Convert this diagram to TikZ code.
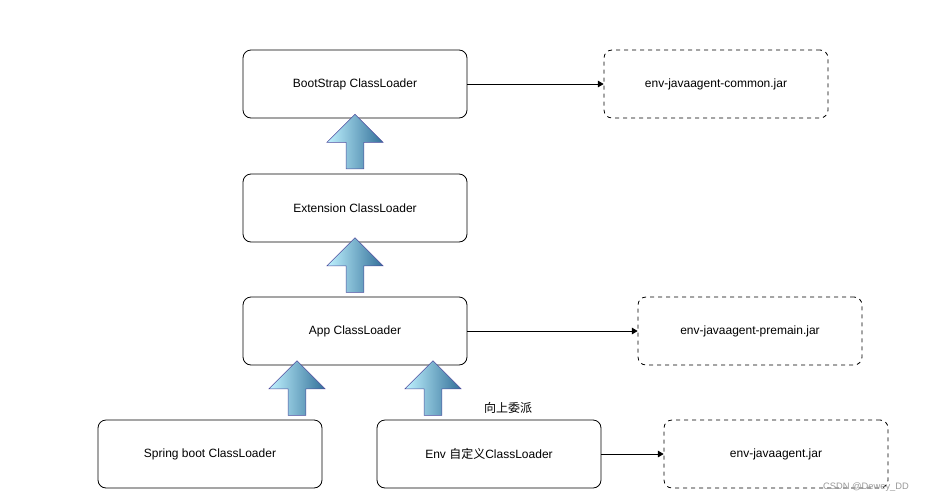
\documentclass[tikz,border=0pt]{standalone}
\usepackage{fontspec}
\setmainfont{Liberation Sans}
\newfontfamily\cjk{Noto Sans CJK SC}
\usetikzlibrary{positioning,arrows.meta,shapes.arrows,calc}

\begin{document}
\begin{tikzpicture}[x=0.75pt,y=-0.75pt,>=Triangle,semithick,
  loader/.style={draw=black,rounded corners=6pt,minimum width=168pt,minimum height=51pt,font=\small},
  jar/.style={loader,dashed},
  up/.style={single arrow,draw=blue!45!black!70,left color=blue!20!cyan!25,right color=blue!40!cyan!50!black!80,
             shape border rotate=90,minimum width=42pt,minimum height=41pt,single arrow head extend=7pt,
             inner sep=3pt,thin}]
  \useasboundingbox (0,0) rectangle (935,500);

  \node[loader] (boot)   at (355,84)  {BootStrap ClassLoader};
  \node[loader] (ext)    at (355,208) {Extension ClassLoader};
  \node[loader] (app)    at (355,331) {App ClassLoader};
  \node[loader] (spring) at (210,454) {Spring boot ClassLoader};
  \node[loader] (env)    at (489,454) {Env {\cjk 自定义}ClassLoader};

  \node[jar] (common)  at (716,84)  {env-javaagent-common.jar};
  \node[jar] (premain) at (750,331) {env-javaagent-premain.jar};
  \node[jar] (agent)   at (776,454) {env-javaagent.jar};

  % delegation arrows
  \node[up] at ($(ext.north)!0.5!(boot.south)$) {};
  \node[up] at ($(app.north)!0.5!(ext.south)$) {};
  \node[up] at ($(spring.north-|297,0)!0.5!(app.south-|297,0)$) {};
  \node[up] (envup) at ($(env.north-|433,0)!0.5!(app.south-|433,0)$) {};
  \node[font=\cjk\small] at (508,408) {向上委派};

  \draw[->] (boot) -- (common);
  \draw[->] (app) -- (premain);
  \draw[->] (env) -- (agent);

  \node[font=\scriptsize,text=black!40] at (866,487) {CSDN @Dewey\_DD};
\end{tikzpicture}
\end{document}
